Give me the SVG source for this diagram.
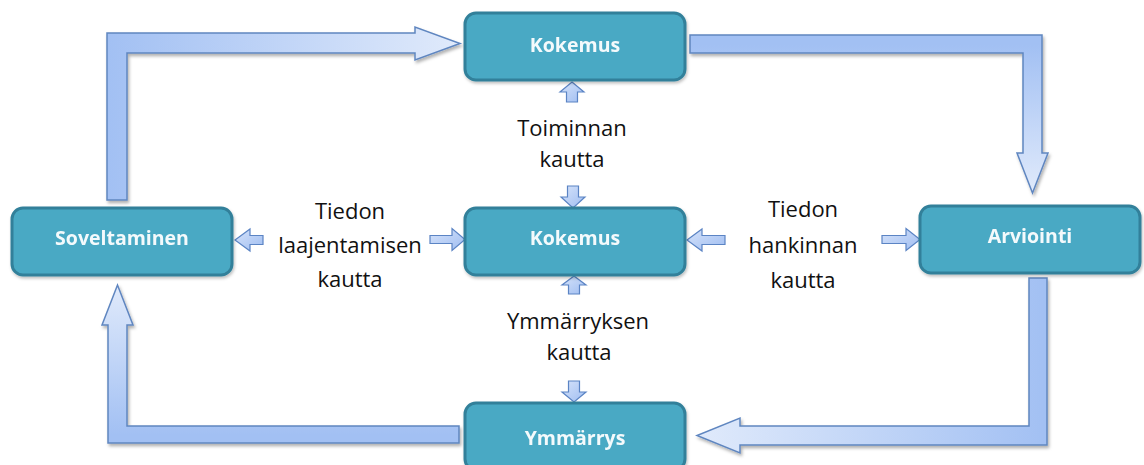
<svg xmlns="http://www.w3.org/2000/svg" width="1144" height="465" viewBox="0 0 1144 465">
<style>
.node rect{fill:#4aa9c4;stroke:#31809a;stroke-width:3}
.node text{font-family:"Open Sans","Liberation Sans",sans-serif;font-weight:bold;font-size:19.5px;fill:#f4fafc;text-anchor:middle}
.lbl{font-family:"Open Sans","Liberation Sans",sans-serif;font-size:22px;fill:#111;text-anchor:middle}
.big{stroke:#5f86c0;stroke-width:1.5;stroke-linejoin:miter;filter:url(#sh)}
.sm{fill:url(#gs);stroke:#5b84c4;stroke-width:1.2;stroke-linejoin:miter}
</style>
<defs>
<filter id="sh" x="-10%" y="-10%" width="130%" height="130%">
<feDropShadow dx="1.5" dy="2.5" stdDeviation="1.5" flood-color="#000" flood-opacity="0.3"/>
</filter>
<filter id="shn" x="-10%" y="-10%" width="130%" height="130%">
<feDropShadow dx="1" dy="2" stdDeviation="1.5" flood-color="#000" flood-opacity="0.25"/>
</filter>
<linearGradient id="g1" gradientUnits="userSpaceOnUse" x1="107" y1="0" x2="460" y2="0">
<stop offset="0" stop-color="#a2c0f3"/><stop offset="1" stop-color="#e0eafb"/>
</linearGradient>
<linearGradient id="g2" gradientUnits="userSpaceOnUse" x1="0" y1="45" x2="0" y2="193">
<stop offset="0" stop-color="#a2c0f3"/><stop offset="1" stop-color="#e0eafb"/>
</linearGradient>
<linearGradient id="g3" gradientUnits="userSpaceOnUse" x1="1047" y1="0" x2="697" y2="0">
<stop offset="0" stop-color="#a2c0f3"/><stop offset="1" stop-color="#e0eafb"/>
</linearGradient>
<linearGradient id="g4" gradientUnits="userSpaceOnUse" x1="0" y1="435" x2="0" y2="285">
<stop offset="0" stop-color="#a2c0f3"/><stop offset="1" stop-color="#e0eafb"/>
</linearGradient>
<linearGradient id="gs" x1="0" y1="0" x2="1" y2="1">
<stop offset="0" stop-color="#d6e3fa"/><stop offset="1" stop-color="#9fbdf1"/>
</linearGradient>
</defs>

<g id="connectors">
<path class="big" fill="url(#g1)" d="M107,200 L107,33 L415,33 L415,27 L460,43.5 L415,60 L415,53 L127,53 L127,200 Z"/>
<path class="big" fill="url(#g2)" d="M690,35 L1042,35 L1042,153 L1048,153 L1032.5,193 L1017,153 L1023,153 L1023,53 L690,53 Z"/>
<path class="big" fill="url(#g3)" d="M1029,278 L1047,278 L1047,445 L740,445 L740,453 L697,435.5 L740,418 L740,426 L1029,426 Z"/>
<path class="big" fill="url(#g4)" d="M459,426 L459,443 L108,443 L108,325 L102,325 L117.5,285 L133,325 L127,325 L127,426 Z"/>
<path class="sm" d="M572,82 L584,92 L577.5,92 L577.5,102 L566.5,102 L566.5,92 L560,92 Z"/>
<path class="sm" d="M567.5,186 L578.5,186 L578.5,197 L585,197 L573,208 L561,197 L567.5,197 Z"/>
<path class="sm" d="M574,276 L586,285 L579.5,285 L579.5,294 L568.5,294 L568.5,285 L562,285 Z"/>
<path class="sm" d="M568.5,381 L579.5,381 L579.5,392 L586,392 L574,402 L562,392 L568.5,392 Z"/>
<path class="sm" d="M235,240 L250,229 L250,235.5 L263,235.5 L263,244.5 L250,244.5 L250,251 Z"/>
<path class="sm" d="M430,235.5 L452,235.5 L452,228.5 L465,239.5 L452,250.5 L452,243.5 L430,243.5 Z"/>
<path class="sm" d="M687,240 L702,229 L702,235.5 L725,235.5 L725,244.5 L702,244.5 L702,251 Z"/>
<path class="sm" d="M882,235.5 L906,235.5 L906,228.5 L920,239.5 L906,250.5 L906,243.5 L882,243.5 Z"/>
</g>

<g id="node-kokemus-top" class="node" filter="url(#shn)">
<rect x="465" y="13" width="220" height="67" rx="11"/>
<text x="575" y="52">Kokemus</text>
</g>
<g id="node-kokemus-mid" class="node" filter="url(#shn)">
<rect x="465" y="208" width="220" height="67" rx="11"/>
<text x="575" y="245">Kokemus</text>
</g>
<g id="node-soveltaminen" class="node" filter="url(#shn)">
<rect x="12" y="208" width="220" height="67" rx="11"/>
<text x="122" y="245">Soveltaminen</text>
</g>
<g id="node-arviointi" class="node" filter="url(#shn)">
<rect x="920" y="206" width="220" height="67" rx="11"/>
<text x="1030" y="243">Arviointi</text>
</g>
<g id="node-ymmarrys" class="node" filter="url(#shn)">
<rect x="465" y="403" width="220" height="67" rx="11"/>
<text x="575" y="445">Ymmärrys</text>
</g>

<g id="labels">
<text class="lbl" x="572" y="136">Toiminnan</text>
<text class="lbl" x="572" y="167">kautta</text>
<text class="lbl" x="350" y="219">Tiedon</text>
<text class="lbl" x="350" y="253">laajentamisen</text>
<text class="lbl" x="350" y="287">kautta</text>
<text class="lbl" x="803" y="217">Tiedon</text>
<text class="lbl" x="803" y="253">hankinnan</text>
<text class="lbl" x="803" y="288">kautta</text>
<text class="lbl" x="578" y="329">Ymmärryksen</text>
<text class="lbl" x="579" y="360">kautta</text>
</g>
</svg>
